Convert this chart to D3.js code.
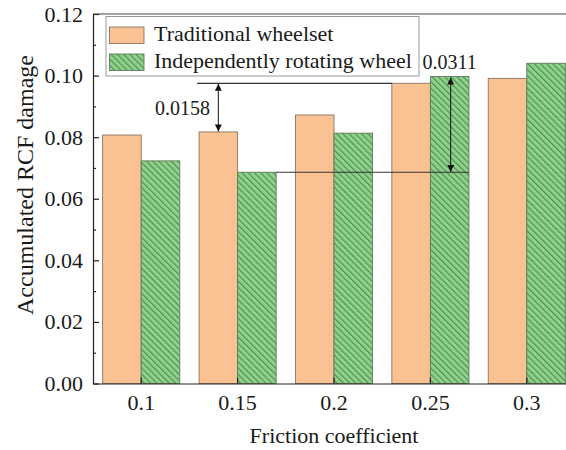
<!DOCTYPE html>
<html>
<head>
<meta charset="utf-8">
<script src="https://cdn.jsdelivr.net/npm/d3@7"></script>
<style>
  html, body { margin: 0; padding: 0; background: #fff; }
  svg { display: block; font-family: "Liberation Serif", "Times New Roman", serif; }
</style>
</head>
<body>
<svg id="chart" width="566" height="450"></svg>
<script>
// Friction coefficients on the x axis
const categories = ["0.1", "0.15", "0.2", "0.25", "0.3"];
const seriesNames = ["Traditional wheelset", "Independently rotating wheel"];
// Accumulated RCF damage for each wheel type
const traditional = [0.0807, 0.0817, 0.0872, 0.0975, 0.0991];
const independent = [0.0723, 0.0686, 0.0813, 0.0997, 0.1040];
const yTicks = [0, 0.02, 0.04, 0.06, 0.08, 0.10, 0.12];
const yMinorTicks = [0.01, 0.03, 0.05, 0.07, 0.09, 0.11];

const svg = d3.select("#chart");
const plotLeft = 93, plotRight = 575, plotTop = 14, plotBottom = 383.5;

const x0 = d3.scaleBand().domain(categories).range([plotLeft, plotRight])
  .paddingInner(0.2).paddingOuter(0.1);
const x1 = d3.scaleBand().domain(seriesNames).range([0, x0.bandwidth()]);
const y = d3.scaleLinear().domain([0, 0.12]).range([plotBottom, plotTop]);

const fills = { [seriesNames[0]]: "#fac192", [seriesNames[1]]: "url(#hatch)" };
const strokes = { [seriesNames[0]]: "#8a7563", [seriesNames[1]]: "#5e7a5c" };

// Diagonal hatch for the independently rotating wheel
const defs = svg.append("defs");
const pat = defs.append("pattern").attr("id", "hatch")
  .attr("patternUnits", "userSpaceOnUse")
  .attr("width", 4.4).attr("height", 10)
  .attr("patternTransform", "rotate(-45)");
pat.append("rect").attr("width", 4.4).attr("height", 10).attr("fill", "#8fd08c");
pat.append("line").attr("x1", 0.6).attr("y1", 0).attr("x2", 0.6).attr("y2", 10)
  .attr("stroke", "#3f8040").attr("stroke-width", 0.9);

const rows = categories.map((c, i) => ({
  cat: c,
  vals: [
    { key: seriesNames[0], v: traditional[i] },
    { key: seriesNames[1], v: independent[i] }
  ]
}));

// Bars
const g = svg.append("g").selectAll("g").data(rows).join("g")
  .attr("transform", d => `translate(${x0(d.cat)},0)`);
g.selectAll("rect").data(d => d.vals).join("rect")
  .attr("x", d => x1(d.key))
  .attr("y", d => y(d.v))
  .attr("width", x1.bandwidth())
  .attr("height", d => y(0) - y(d.v))
  .attr("fill", d => fills[d.key])
  .attr("stroke", d => strokes[d.key])
  .attr("stroke-width", 0.9);

// Axes
const axisColor = "#222";
svg.append("g").attr("transform", `translate(${plotLeft},0)`)
  .call(d3.axisLeft(y).tickValues(yTicks).tickFormat(d3.format(".2f"))
    .tickSizeInner(-6).tickSizeOuter(0).tickPadding(10));
svg.append("g").attr("transform", `translate(${plotLeft},0)`)
  .call(d3.axisLeft(y).tickValues(yMinorTicks).tickFormat("")
    .tickSizeInner(-3).tickSizeOuter(0))
  .call(a => a.select(".domain").remove());
svg.append("g").attr("transform", `translate(0,${plotBottom})`)
  .call(d3.axisBottom(x0).tickSizeInner(-6).tickSizeOuter(0).tickPadding(11));

svg.selectAll(".tick line, .domain").attr("stroke", axisColor).attr("stroke-width", 1.2);
svg.selectAll(".tick text").attr("font-size", 22).attr("fill", "#1a1a1a")
  .attr("font-family", "Liberation Serif, Times New Roman, serif");

// Top and right frame
svg.append("path")
  .attr("d", `M${plotLeft},${plotTop}H${plotRight}V${plotBottom}`)
  .attr("fill", "none").attr("stroke", "#444").attr("stroke-width", 1.2);

// Axis titles
svg.append("text").attr("x", (plotLeft + plotRight) / 2).attr("y", 443)
  .attr("text-anchor", "middle").attr("font-size", 22).attr("fill", "#1a1a1a")
  .text("Friction coefficient");
svg.append("text").attr("transform", "translate(33,185) rotate(-90)")
  .attr("text-anchor", "middle").attr("font-size", 24).attr("fill", "#1a1a1a")
  .text("Accumulated RCF damage");

// Difference annotations
defs.append("marker").attr("id", "ah").attr("viewBox", "0 0 10 10")
  .attr("refX", 10).attr("refY", 5).attr("markerWidth", 7).attr("markerHeight", 7)
  .attr("orient", "auto-start-reverse").attr("markerUnits", "userSpaceOnUse")
  .append("path").attr("d", "M0,0L10,5L0,10Z").attr("fill", "#111");

const barX = (i, s) => x0(categories[i]) + x1(seriesNames[s]);
const bw = x1.bandwidth();

// Traditional wheelset: 0.15 vs 0.25
svg.append("line")
  .attr("x1", barX(1, 0) - 2).attr("x2", barX(3, 0))
  .attr("y1", y(traditional[3])).attr("y2", y(traditional[3]))
  .attr("stroke", "#333").attr("stroke-width", 1.2);
svg.append("line")
  .attr("x1", barX(1, 0) + bw / 2).attr("x2", barX(1, 0) + bw / 2)
  .attr("y1", y(traditional[3]) + 0.5).attr("y2", y(traditional[1]) - 0.5)
  .attr("stroke", "#111").attr("stroke-width", 1)
  .attr("marker-start", "url(#ah)").attr("marker-end", "url(#ah)");
svg.append("text")
  .attr("x", barX(1, 0) + 11).attr("y", (y(traditional[3]) + y(traditional[1])) / 2 + 7)
  .attr("text-anchor", "end").attr("font-size", 20).attr("fill", "#1a1a1a")
  .text(d3.format(".4f")(traditional[3] - traditional[1]));

// Independently rotating wheel: 0.15 vs 0.25
svg.append("line")
  .attr("x1", barX(1, 1) + bw).attr("x2", barX(3, 1) + bw)
  .attr("y1", y(independent[1])).attr("y2", y(independent[1]))
  .attr("stroke", "#333").attr("stroke-width", 1.2);
svg.append("line")
  .attr("x1", barX(3, 1) + bw / 2 + 1).attr("x2", barX(3, 1) + bw / 2 + 1)
  .attr("y1", y(independent[3]) + 1).attr("y2", y(independent[1]) - 0.5)
  .attr("stroke", "#111").attr("stroke-width", 1)
  .attr("marker-start", "url(#ah)").attr("marker-end", "url(#ah)");
svg.append("text")
  .attr("x", barX(3, 1) + bw / 2).attr("y", y(independent[3]) - 8)
  .attr("text-anchor", "middle").attr("font-size", 20).attr("fill", "#1a1a1a")
  .text(d3.format(".4f")(independent[3] - independent[1]));

// Legend
const lg = svg.append("g");
lg.append("rect").attr("x", 106).attr("y", 16.5).attr("width", 313).attr("height", 59.5)
  .attr("fill", "#fff").attr("stroke", "#999").attr("stroke-width", 1);
seriesNames.forEach((name, i) => {
  const yy = 27 + i * 27;
  lg.append("rect").attr("x", 109.5).attr("y", yy).attr("width", 34.5).attr("height", 16.5)
    .attr("fill", fills[name]).attr("stroke", strokes[name]).attr("stroke-width", 0.9);
  lg.append("text").attr("x", 154).attr("y", yy + 14).attr("font-size", 22)
    .attr("fill", "#1a1a1a").text(name);
});
</script>
</body>
</html>
